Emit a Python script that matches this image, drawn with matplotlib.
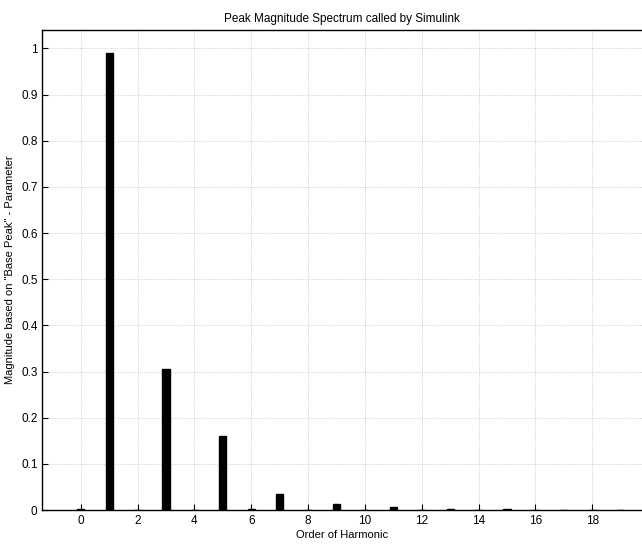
"""Peak magnitude spectrum (harmonic orders) — recreated from a scanned MATLAB figure."""

import matplotlib

matplotlib.use("Agg")
import matplotlib.pyplot as plt

plt.rcParams["font.family"] = ["Liberation Sans", "DejaVu Sans"]

# harmonic order and normalised peak magnitude
orders = [0, 1, 2, 3, 4, 5, 6, 7, 8, 9, 10, 11, 12, 13, 14, 15, 16, 17, 18, 19]
magnitude = [0.003, 0.99, 0.0, 0.305, 0.0, 0.16, 0.002, 0.035, 0.0, 0.013,
             0.0, 0.006, 0.0, 0.003, 0.0, 0.002, 0.0, 0.001, 0.0, 0.001]
x_ticks = [0, 2, 4, 6, 8, 10, 12, 14, 16, 18]
y_ticks = [0, 0.1, 0.2, 0.3, 0.4, 0.5, 0.6, 0.7, 0.8, 0.9, 1]
y_tick_labels = ["0", "0.1", "0.2", "0.3", "0.4", "0.5", "0.6", "0.7", "0.8", "0.9", "1"]

fig = plt.figure(figsize=(6.42, 5.55), dpi=100)
ax = fig.add_axes([0.066, 0.081, 0.934, 0.865])

ax.bar(orders, magnitude, width=0.25, color="black", edgecolor="black")

ax.set_xlim(-1.35, 19.75)
ax.set_ylim(0, 1.04)
ax.set_xticks(x_ticks)
ax.set_yticks(y_ticks)
ax.set_yticklabels(y_tick_labels)
ax.tick_params(direction="in", length=4, labelsize=8.5, width=0.8)
# the scan only shows the dotted grid in faint fragments
ax.grid(True, linestyle=":", color="black", linewidth=0.6, alpha=0.25)
ax.spines["right"].set_visible(False)
for s in ("left", "top", "bottom"):
    ax.spines[s].set_linewidth(1.0)

ax.set_title("Peak Magnitude Spectrum called by Simulink", fontsize=8.5, pad=6)
ax.set_xlabel("Order of Harmonic", fontsize=8, labelpad=2)
ax.set_ylabel('Magnitude based on "Base Peak" - Parameter', fontsize=8, labelpad=4)

fig.savefig("out.png", dpi=100)
plt.close(fig)
